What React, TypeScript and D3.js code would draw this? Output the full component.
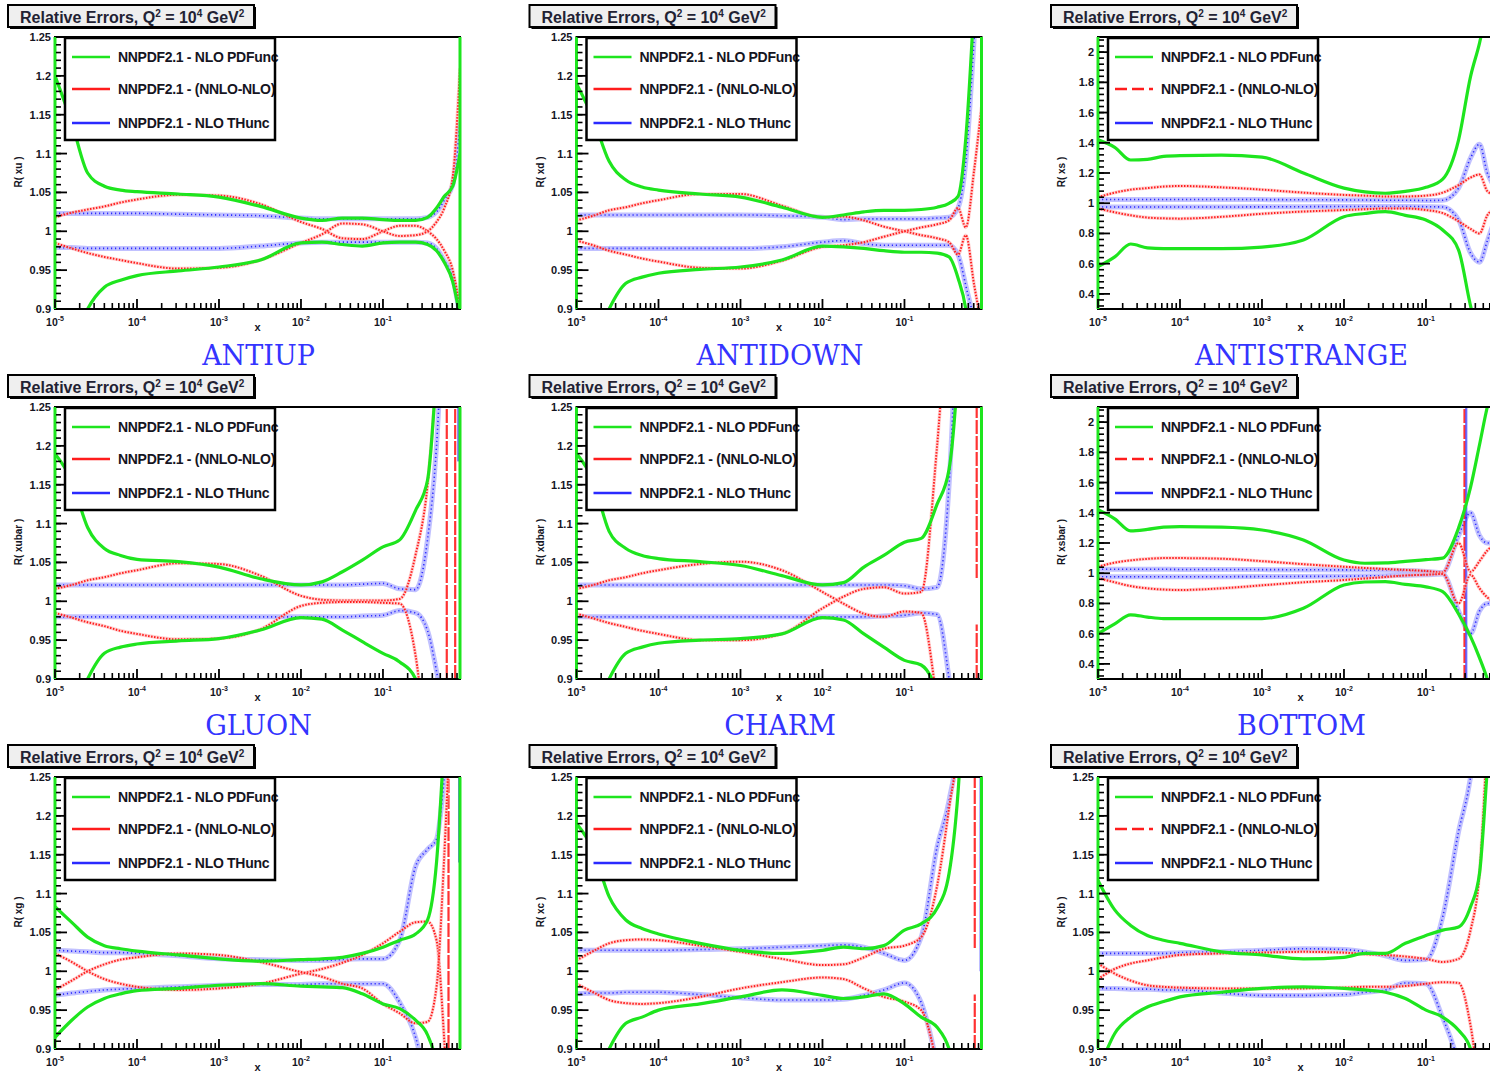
import React from "react";
import * as d3 from "d3";

// shared x grid
const X = [1e-5, 1.6e-5, 2.5e-5, 4e-5, 6.3e-5, 1e-4, 3.2e-4, 1e-3, 3.2e-3, 1e-2, 1.8e-2, 3.2e-2, 5.6e-2, 0.1, 0.16, 0.25, 0.35, 0.45, 0.56, 0.71, 0.87];

// Panel 1: R( xu )
const GU1 = [1.2, 1.14, 1.075, 1.058, 1.053, 1.051, 1.048, 1.044, 1.032, 1.017, 1.014, 1.017, 1.017, 1.015, 1.014, 1.014, 1.018, 1.03, 1.045, 1.058, 1.1];
const GL1 = [0.8, 0.85, 0.9, 0.928, 0.937, 0.943, 0.949, 0.954, 0.963, 0.985, 0.986, 0.983, 0.981, 0.985, 0.986, 0.986, 0.983, 0.975, 0.96, 0.935, 0.89];
const RA1 = [1.018, 1.024, 1.028, 1.032, 1.037, 1.041, 1.047, 1.046, 1.035, 1.012, 1.003, 0.991, 0.99, 1.0, 1.007, 1.007, 1.0, 0.99, 0.975, 0.95, 0.9];
const RB1 = [0.985, 0.978, 0.972, 0.967, 0.963, 0.959, 0.952, 0.953, 0.963, 0.985, 0.996, 1.01, 1.009, 1.0, 0.994, 0.995, 1.0, 1.012, 1.03, 1.07, 1.21];
const BU1 = [1.023, 1.023, 1.023, 1.023, 1.023, 1.023, 1.022, 1.021, 1.02, 1.017, 1.016, 1.016, 1.016, 1.016, 1.016, 1.016, 1.018, 1.025, 1.04, 1.06, 1.14];
const BL1 = [0.979, 0.979, 0.978, 0.978, 0.978, 0.978, 0.978, 0.978, 0.981, 0.985, 0.986, 0.986, 0.986, 0.986, 0.986, 0.986, 0.985, 0.978, 0.962, 0.94, 0.89];

// Panel 2: R( xd )
const GU2 = [1.19, 1.145, 1.09, 1.066, 1.057, 1.053, 1.048, 1.044, 1.031, 1.018, 1.021, 1.025, 1.027, 1.027, 1.028, 1.031, 1.036, 1.045, 1.12, 1.3, 1.5];
const GL2 = [0.8, 0.85, 0.9, 0.933, 0.941, 0.946, 0.951, 0.954, 0.963, 0.981, 0.98, 0.978, 0.975, 0.973, 0.973, 0.972, 0.967, 0.94, 0.9, 0.8, 0.7];
const RA2 = [1.014, 1.02, 1.027, 1.031, 1.036, 1.04, 1.048, 1.048, 1.033, 1.018, 1.019, 1.014, 1.006, 1.0, 0.995, 0.991, 0.986, 0.97, 0.995, 0.93, 0.88];
const RB2 = [0.988, 0.982, 0.975, 0.97, 0.965, 0.961, 0.953, 0.952, 0.962, 0.98, 0.982, 0.986, 0.993, 1.0, 1.005, 1.009, 1.014, 1.03, 1.005, 1.08, 1.16];
const BU2 = [1.021, 1.021, 1.021, 1.021, 1.021, 1.021, 1.021, 1.021, 1.02, 1.018, 1.015, 1.016, 1.016, 1.016, 1.016, 1.017, 1.018, 1.03, 1.09, 1.25, 1.4];
const BL2 = [0.978, 0.978, 0.978, 0.978, 0.978, 0.978, 0.978, 0.978, 0.98, 0.986, 0.988, 0.984, 0.982, 0.982, 0.982, 0.982, 0.982, 0.97, 0.93, 0.88, 0.8];

// Panel 3: R( xs )
const GU3 = [1.42, 1.37, 1.286, 1.29, 1.31, 1.315, 1.318, 1.305, 1.2, 1.1, 1.075, 1.066, 1.078, 1.105, 1.16, 1.42, 1.84, 2.06, 2.3, 2.5, 2.6];
const GL3 = [0.58, 0.645, 0.73, 0.705, 0.7, 0.7, 0.7, 0.71, 0.757, 0.911, 0.932, 0.944, 0.92, 0.889, 0.823, 0.69, 0.32, 0.1, 0, 0, 0];
const RA3 = [1.04, 1.07, 1.09, 1.1, 1.11, 1.114, 1.105, 1.09, 1.07, 1.055, 1.05, 1.045, 1.045, 1.05, 1.07, 1.12, 1.17, 1.19, 1.08, 1.05, 1.0];
const RB3 = [0.965, 0.94, 0.92, 0.905, 0.9, 0.898, 0.91, 0.93, 0.945, 0.955, 0.96, 0.965, 0.965, 0.955, 0.935, 0.88, 0.83, 0.8, 0.92, 0.97, 1.0];
const BU3 = [1.025, 1.025, 1.025, 1.025, 1.025, 1.025, 1.025, 1.024, 1.023, 1.022, 1.021, 1.02, 1.02, 1.018, 1.02, 1.1, 1.3, 1.39, 1.2, 1.1, 1.05];
const BL3 = [0.975, 0.975, 0.975, 0.975, 0.975, 0.975, 0.975, 0.976, 0.977, 0.978, 0.978, 0.978, 0.978, 0.977, 0.975, 0.89, 0.67, 0.61, 0.75, 0.9, 0.95];

// Panel 4: R( xubar )
const GU4 = [1.19, 1.155, 1.095, 1.068, 1.059, 1.054, 1.051, 1.044, 1.029, 1.021, 1.025, 1.038, 1.053, 1.07, 1.079, 1.117, 1.156, 1.3, 1.5, 1.7, 1.8];
const GL4 = [0.8, 0.85, 0.9, 0.933, 0.941, 0.945, 0.949, 0.952, 0.963, 0.979, 0.977, 0.963, 0.948, 0.933, 0.922, 0.9, 0.85, 0.8, 0.7, 0.6, 0.5];
const RA4 = [1.016, 1.021, 1.027, 1.031, 1.036, 1.04, 1.049, 1.048, 1.033, 1.007, 1.002, 1.001, 1.001, 1.001, 1.003, 1.06, 1.15, 1.3, 1.5, 1.6, 1.7];
const RB4 = [0.985, 0.979, 0.973, 0.968, 0.962, 0.958, 0.951, 0.952, 0.964, 0.994, 0.998, 0.999, 0.999, 0.998, 0.997, 0.93, 0.8, 0.7, 0.6, 0.5, 0.5];
const BU4 = [1.021, 1.021, 1.021, 1.021, 1.021, 1.021, 1.021, 1.021, 1.021, 1.021, 1.021, 1.021, 1.022, 1.023, 1.016, 1.015, 1.08, 1.2, 1.4, 1.6, 1.7];
const BL4 = [0.98, 0.98, 0.98, 0.98, 0.98, 0.98, 0.98, 0.98, 0.98, 0.98, 0.98, 0.98, 0.981, 0.982, 0.988, 0.985, 0.962, 0.91, 0.85, 0.8, 0.7];

// Panel 5: R( xdbar )
const GU5 = [1.19, 1.155, 1.09, 1.068, 1.059, 1.055, 1.051, 1.046, 1.033, 1.021, 1.024, 1.044, 1.059, 1.076, 1.081, 1.125, 1.17, 1.3, 1.5, 1.7, 1.8];
const GL5 = [0.8, 0.85, 0.9, 0.933, 0.941, 0.946, 0.95, 0.952, 0.958, 0.979, 0.976, 0.958, 0.941, 0.924, 0.918, 0.88, 0.8, 0.7, 0.6, 0.5, 0.5];
const RA5 = [1.016, 1.021, 1.027, 1.031, 1.036, 1.04, 1.048, 1.051, 1.04, 1.012, 0.997, 0.984, 0.98, 0.987, 0.985, 0.87, 0.75, 0.6, 0.5, 0.5, 0.5];
const RB5 = [0.984, 0.978, 0.972, 0.967, 0.962, 0.958, 0.95, 0.95, 0.958, 0.991, 1.006, 1.016, 1.018, 1.01, 1.012, 1.2, 1.4, 1.5, 1.6, 1.7, 1.8];
const BU5 = [1.021, 1.021, 1.021, 1.021, 1.021, 1.021, 1.021, 1.021, 1.021, 1.021, 1.021, 1.021, 1.021, 1.02, 1.016, 1.018, 1.15, 1.4, 1.6, 1.7, 1.8];
const BL5 = [0.98, 0.98, 0.98, 0.98, 0.98, 0.98, 0.98, 0.98, 0.98, 0.98, 0.98, 0.98, 0.981, 0.982, 0.985, 0.983, 0.9, 0.8, 0.7, 0.6, 0.5];

// Panel 6: R( xsbar )
const GU6 = [1.42, 1.36, 1.28, 1.29, 1.305, 1.308, 1.305, 1.286, 1.22, 1.087, 1.066, 1.068, 1.078, 1.09, 1.1, 1.3, 1.57, 1.85, 2.1, 2.3, 2.4];
const GL6 = [0.6, 0.665, 0.725, 0.71, 0.7, 0.7, 0.7, 0.7, 0.768, 0.922, 0.942, 0.944, 0.926, 0.91, 0.878, 0.73, 0.58, 0.44, 0.3, 0.1, 0];
const RA6 = [1.043, 1.07, 1.085, 1.095, 1.1, 1.1, 1.096, 1.08, 1.06, 1.043, 1.035, 1.028, 1.022, 1.015, 1.005, 1.2, 1.01, 1.08, 1.15, 1.19, 1.2];
const RB6 = [0.968, 0.94, 0.915, 0.9, 0.892, 0.889, 0.9, 0.92, 0.94, 0.955, 0.965, 0.975, 0.985, 0.99, 0.995, 0.8, 0.99, 0.9, 0.84, 0.81, 0.8];
const BU6 = [1.026, 1.026, 1.026, 1.026, 1.026, 1.025, 1.025, 1.024, 1.023, 1.022, 1.021, 1.02, 1.018, 1.012, 1.005, 1.25, 1.4, 1.25, 1.2, 1.2, 1.2];
const BL6 = [0.977, 0.977, 0.977, 0.977, 0.977, 0.977, 0.977, 0.978, 0.979, 0.98, 0.982, 0.984, 0.986, 0.99, 0.995, 0.75, 0.6, 0.75, 0.8, 0.8, 0.8];

// Panel 7: R( xg )
const GU7 = [1.083, 1.063, 1.044, 1.033, 1.029, 1.026, 1.021, 1.016, 1.013, 1.015, 1.016, 1.018, 1.023, 1.031, 1.04, 1.048, 1.066, 1.14, 1.3, 1.5, 1.6];
const GL7 = [0.915, 0.937, 0.954, 0.965, 0.971, 0.975, 0.978, 0.982, 0.984, 0.981, 0.98, 0.979, 0.971, 0.958, 0.952, 0.937, 0.918, 0.88, 0.8, 0.7, 0.6];
const RA7 = [1.023, 1.012, 1.0, 0.99, 0.984, 0.98, 0.976, 0.978, 0.984, 0.997, 1.003, 1.011, 1.021, 1.036, 1.051, 1.063, 1.064, 1.04, 0.91, 0.7, 0.5];
const RB7 = [0.976, 0.988, 1.0, 1.009, 1.015, 1.018, 1.023, 1.021, 1.012, 0.999, 0.993, 0.984, 0.978, 0.958, 0.946, 0.933, 0.935, 0.98, 1.15, 1.4, 1.6];
const BU7 = [1.027, 1.026, 1.025, 1.024, 1.024, 1.023, 1.02, 1.016, 1.015, 1.014, 1.014, 1.015, 1.016, 1.016, 1.04, 1.135, 1.157, 1.17, 1.25, 1.4, 1.5];
const BL7 = [0.969, 0.972, 0.974, 0.976, 0.977, 0.978, 0.98, 0.982, 0.983, 0.983, 0.984, 0.984, 0.984, 0.984, 0.96, 0.915, 0.85, 0.8, 0.7, 0.6, 0.5];

// Panel 8: R( xc )
const GU8 = [1.19, 1.156, 1.096, 1.066, 1.055, 1.048, 1.036, 1.027, 1.023, 1.027, 1.031, 1.029, 1.033, 1.053, 1.061, 1.081, 1.126, 1.23, 1.4, 1.5, 1.6];
const GL8 = [0.8, 0.85, 0.9, 0.933, 0.941, 0.95, 0.958, 0.967, 0.976, 0.969, 0.965, 0.967, 0.971, 0.958, 0.941, 0.928, 0.9, 0.85, 0.8, 0.7, 0.6];
const RA8 = [1.014, 1.026, 1.036, 1.04, 1.041, 1.04, 1.033, 1.025, 1.016, 1.008, 1.009, 1.018, 1.029, 1.033, 1.044, 1.11, 1.21, 1.3, 1.5, 1.6, 1.7];
const RB8 = [0.984, 0.973, 0.963, 0.959, 0.958, 0.959, 0.967, 0.978, 0.986, 0.992, 0.99, 0.978, 0.967, 0.961, 0.95, 0.88, 0.8, 0.7, 0.6, 0.5, 0.5];
const BU8 = [1.027, 1.027, 1.027, 1.027, 1.027, 1.027, 1.028, 1.029, 1.031, 1.033, 1.034, 1.031, 1.023, 1.014, 1.044, 1.16, 1.22, 1.3, 1.5, 1.6, 1.7];
const BL8 = [0.971, 0.972, 0.972, 0.973, 0.973, 0.973, 0.97, 0.966, 0.963, 0.963, 0.964, 0.969, 0.976, 0.985, 0.96, 0.88, 0.8, 0.7, 0.6, 0.5, 0.5];

// Panel 9: R( xb )
const GU9 = [1.117, 1.079, 1.059, 1.046, 1.04, 1.036, 1.025, 1.021, 1.016, 1.018, 1.023, 1.023, 1.036, 1.046, 1.053, 1.057, 1.083, 1.126, 1.26, 1.4, 1.5];
const GL9 = [0.87, 0.92, 0.941, 0.954, 0.961, 0.967, 0.973, 0.978, 0.98, 0.978, 0.976, 0.973, 0.965, 0.95, 0.941, 0.924, 0.9, 0.85, 0.8, 0.7, 0.6];
const RA9 = [1.01, 0.997, 0.988, 0.982, 0.98, 0.979, 0.978, 0.978, 0.978, 0.979, 0.98, 0.98, 0.981, 0.984, 0.986, 0.985, 0.93, 0.85, 0.8, 0.7, 0.6];
const RB9 = [0.99, 1.003, 1.01, 1.014, 1.018, 1.021, 1.023, 1.024, 1.025, 1.024, 1.022, 1.021, 1.019, 1.016, 1.012, 1.016, 1.053, 1.126, 1.3, 1.5, 1.6];
const BU9 = [1.023, 1.023, 1.023, 1.023, 1.023, 1.024, 1.025, 1.027, 1.029, 1.028, 1.025, 1.02, 1.014, 1.015, 1.07, 1.18, 1.25, 1.35, 1.5, 1.6, 1.7];
const BL9 = [0.978, 0.978, 0.977, 0.977, 0.976, 0.976, 0.972, 0.969, 0.969, 0.97, 0.973, 0.976, 0.985, 0.984, 0.94, 0.88, 0.8, 0.7, 0.6, 0.5, 0.5];

// vertical asymptote spikes: [x, low, high, colour key]
const SPIKES4: [number, number, number, string][] = [[0.6, 0.9, 1.25, "red"], [0.76, 0.9, 1.25, "red"], [0.83, 1.18, 1.25, "blue"]];
const SPIKES5: [number, number, number, string][] = [[0.76, 1.03, 1.25, "red"], [0.76, 0.9, 0.97, "red"], [0.86, 1.18, 1.25, "blue"]];
const SPIKES6: [number, number, number, string][] = [[0.295, 0.3, 2.1, "red"], [0.31, 0.3, 2.1, "blue"]];
const SPIKES7: [number, number, number, string][] = [[0.63, 0.9, 1.25, "red"], [0.85, 1.14, 1.25, "blue"]];
const SPIKES8: [number, number, number, string][] = [[0.72, 1.03, 1.25, "red"], [0.72, 0.9, 0.97, "red"], [0.85, 1.0, 1.25, "blue"]];

const Y_TICKS_NARROW = [0.9, 0.95, 1, 1.05, 1.1, 1.15, 1.2, 1.25];
const Y_TICKS_WIDE = [0.4, 0.6, 0.8, 1, 1.2, 1.4, 1.6, 1.8, 2];
const X_TICK_EXP = [-5, -4, -3, -2, -1];
const YLABELS = ["R( xu )", "R( xd )", "R( xs )", "R( xubar )", "R( xdbar )", "R( xsbar )", "R( xg )", "R( xc )", "R( xb )"];
const CAPTIONS = ["ANTIUP", "ANTIDOWN", "ANTISTRANGE", "GLUON", "CHARM", "BOTTOM", "", "", ""];
const LEGEND_LABELS = ["NNPDF2.1 - NLO PDFunc", "NNPDF2.1 - (NNLO-NLO)", "NNPDF2.1 - NLO THunc"];

const NARROW = [0.9, 1.25];
const WIDE = [0.3, 2.1];

const PANELS = [
  { green: [GU1, GL1], red: [RA1, RB1], blue: [BU1, BL1], dom: NARROW, spikes: [] as any[] },
  { green: [GU2, GL2], red: [RA2, RB2], blue: [BU2, BL2], dom: NARROW, spikes: [] as any[] },
  { green: [GU3, GL3], red: [RA3, RB3], blue: [BU3, BL3], dom: WIDE, spikes: [] as any[] },
  { green: [GU4, GL4], red: [RA4, RB4], blue: [BU4, BL4], dom: NARROW, spikes: SPIKES4 },
  { green: [GU5, GL5], red: [RA5, RB5], blue: [BU5, BL5], dom: NARROW, spikes: SPIKES5 },
  { green: [GU6, GL6], red: [RA6, RB6], blue: [BU6, BL6], dom: WIDE, spikes: SPIKES6 },
  { green: [GU7, GL7], red: [RA7, RB7], blue: [BU7, BL7], dom: NARROW, spikes: SPIKES7 },
  { green: [GU8, GL8], red: [RA8, RB8], blue: [BU8, BL8], dom: NARROW, spikes: SPIKES8 },
  { green: [GU9, GL9], red: [RA9, RB9], blue: [BU9, BL9], dom: NARROW, spikes: [] as any[] },
];

const PW = 405;
const PH = 272;
const GREEN = "#1ee51e";
const RED = "#ff1c1c";
const BLUE = "#2a2aff";
const BLUE_BAND = "#b6b6ff";
const RED_HALO = "#ffb3b3";
const SANS = "'Liberation Sans', Arial, Helvetica, sans-serif";
const TXT = "#15151f";

function fmt(v: number) {
  return String(+v.toFixed(2));
}

function Panel({ idx }: { idx: number }) {
  const p = PANELS[idx];
  const col = idx % 3;
  const row = Math.floor(idx / 3);
  const left = 55 + 521.5 * col;
  const top = 37 + 370 * row;
  const xs = d3.scaleLog().domain([1e-5, 0.87]).range([0, PW]);
  const ys = d3.scaleLinear().domain(p.dom).range([PH, 0]);
  const line = d3
    .line<number>()
    .x((_, i) => xs(X[i]))
    .y((v) => ys(v))
    .curve(d3.curveMonotoneX);
  const wide = p.dom === WIDE;
  const majors = wide ? Y_TICKS_WIDE : Y_TICKS_NARROW;
  const minorStep = wide ? 0.04 : 0.01;
  const minorStart = wide ? 0.32 : 0.9;
  const minors = d3.range(minorStart, p.dom[1] + 1e-9, minorStep);
  const xMinors: number[] = [];
  X_TICK_EXP.forEach((e) => {
    for (let k = 2; k <= 9; k++) {
      const v = k * Math.pow(10, e);
      if (v < 0.87) xMinors.push(v);
    }
  });
  const clipId = `clip${idx}`;
  const legendDashed = col === 2;

  return (
    <g transform={`translate(${left},${top})`}>
      <defs>
        <clipPath id={clipId}>
          <rect x={0} y={0} width={PW} height={PH} />
        </clipPath>
      </defs>
      <rect x={0} y={0} width={PW} height={PH} fill="white" />
      <g clipPath={`url(#${clipId})`} fill="none">
        {p.blue.map((s, k) => (
          <g key={"b" + k}>
            <path d={line(s) || ""} stroke={BLUE_BAND} strokeWidth={5} opacity={0.85} />
            <path d={line(s) || ""} stroke={BLUE} strokeWidth={1.6} strokeDasharray="1.2 2.8" />
          </g>
        ))}
        {p.spikes.map((sp: any, k: number) => (
          <line
            key={"s" + k}
            x1={xs(sp[0])}
            x2={xs(sp[0])}
            y1={ys(sp[1])}
            y2={ys(sp[2])}
            stroke={sp[3] === "red" ? RED : BLUE}
            strokeWidth={2.2}
            strokeDasharray={sp[3] === "red" ? "14 2" : "none"}
            opacity={sp[3] === "red" ? 0.9 : 0.7}
          />
        ))}
        {p.red.map((s, k) => (
          <g key={"r" + k}>
            <path d={line(s) || ""} stroke={RED_HALO} strokeWidth={3.5} opacity={0.6} />
            <path d={line(s) || ""} stroke={RED} strokeWidth={2} strokeDasharray="1.5 1.5" />
          </g>
        ))}
        {p.green.map((s, k) => (
          <path key={"g" + k} d={line(s) || ""} stroke={GREEN} strokeWidth={3.2} />
        ))}
      </g>
      {/* frame */}
      <rect x={0} y={0} width={PW} height={PH} fill="none" stroke="#000" strokeWidth={2} />
      <line x1={0} x2={0} y1={0} y2={PH} stroke={GREEN} strokeWidth={3} />
      <line x1={PW} x2={PW} y1={0} y2={PH} stroke={GREEN} strokeWidth={3} />
      {/* y ticks */}
      {minors.map((v, k) => (
        <line key={"ym" + k} x1={1} x2={6} y1={ys(v)} y2={ys(v)} stroke="#000" strokeWidth={1.6} />
      ))}
      {majors.map((v, k) => (
        <g key={"yM" + k}>
          <line x1={1} x2={12} y1={ys(v)} y2={ys(v)} stroke="#000" strokeWidth={1.8} />
          <text x={-4} y={ys(v) + 4} textAnchor="end" fontFamily={SANS} fontWeight="bold" fontSize={11} fill={TXT}>
            {fmt(v)}
          </text>
        </g>
      ))}
      {/* x ticks */}
      {xMinors.map((v, k) => (
        <line key={"xm" + k} x1={xs(v)} x2={xs(v)} y1={PH - 1} y2={PH - 6} stroke="#000" strokeWidth={1.6} />
      ))}
      {X_TICK_EXP.map((e) => (
        <g key={"xM" + e}>
          <line x1={xs(Math.pow(10, e))} x2={xs(Math.pow(10, e))} y1={PH - 1} y2={PH - 10} stroke="#000" strokeWidth={1.8} />
          <text x={xs(Math.pow(10, e))} y={PH + 17} textAnchor="middle" fontFamily={SANS} fontWeight="bold" fontSize={10.5} fill={TXT}>
            10
            <tspan dy={-5} fontSize={7}>
              {String(e)}
            </tspan>
          </text>
        </g>
      ))}
      <text x={PW / 2} y={PH + 22} textAnchor="middle" fontFamily={SANS} fontWeight="bold" fontSize={11} fill={TXT}>
        x
      </text>
      <text
        transform={`translate(-33,135) rotate(-90)`}
        textAnchor="middle"
        fontFamily={SANS}
        fontWeight="bold"
        fontSize={10}
        fill={TXT}
      >
        {YLABELS[idx]}
      </text>
      {/* legend */}
      <g transform="translate(10,1)">
        <rect x={0} y={0} width={210} height={102} fill="white" />
        {LEGEND_LABELS.map((lab, k) => {
          const yy = [19, 51, 85][k];
          const c = [GREEN, RED, BLUE][k];
          return (
            <g key={"lg" + k}>
              <line
                x1={7}
                x2={45}
                y1={yy}
                y2={yy}
                stroke={c}
                strokeWidth={2.6}
                strokeDasharray={k === 1 && legendDashed ? "12 5" : "none"}
              />
              <text x={53} y={yy + 5} fontFamily={SANS} fontWeight="bold" fontSize={14} fill={TXT} letterSpacing={-0.3}>
                {lab}
              </text>
            </g>
          );
        })}
        <rect x={0} y={0} width={210} height={102} fill="none" stroke="#000" strokeWidth={2.5} />
      </g>
      {/* header */}
      <g transform="translate(-47,-32)">
        <rect x={2} y={2} width={246} height={22} fill="#000" />
        <rect x={0} y={0} width={246} height={22} fill="#efefef" stroke="#000" strokeWidth={2} />
        <text x={12} y={18} fontFamily={SANS} fontWeight="bold" fontSize={16} fill="#222233">
          Relative Errors, Q
          <tspan dy={-6} fontSize={10}>2</tspan>
          <tspan dy={6}> =  10</tspan>
          <tspan dy={-6} fontSize={10}>4</tspan>
          <tspan dy={6}> GeV</tspan>
          <tspan dy={-6} fontSize={10}>2</tspan>
        </text>
      </g>
      {CAPTIONS[idx] ? (
        <text x={PW / 2 + 1} y={PH + 56} textAnchor="middle" fontFamily="'DejaVu Serif', serif" fontSize={27} fill="#3434ff">
          {CAPTIONS[idx]}
        </text>
      ) : null}
    </g>
  );
}

export default function App() {
  return (
    <svg
      width={1490}
      height={1072}
      viewBox="0 0 1490 1072"
      style={{ position: "absolute", left: 0, top: 0, background: "white" }}
    >
      <rect x={0} y={0} width={1490} height={1072} fill="white" />
      {PANELS.map((_, i) => (
        <Panel key={i} idx={i} />
      ))}
    </svg>
  );
}
